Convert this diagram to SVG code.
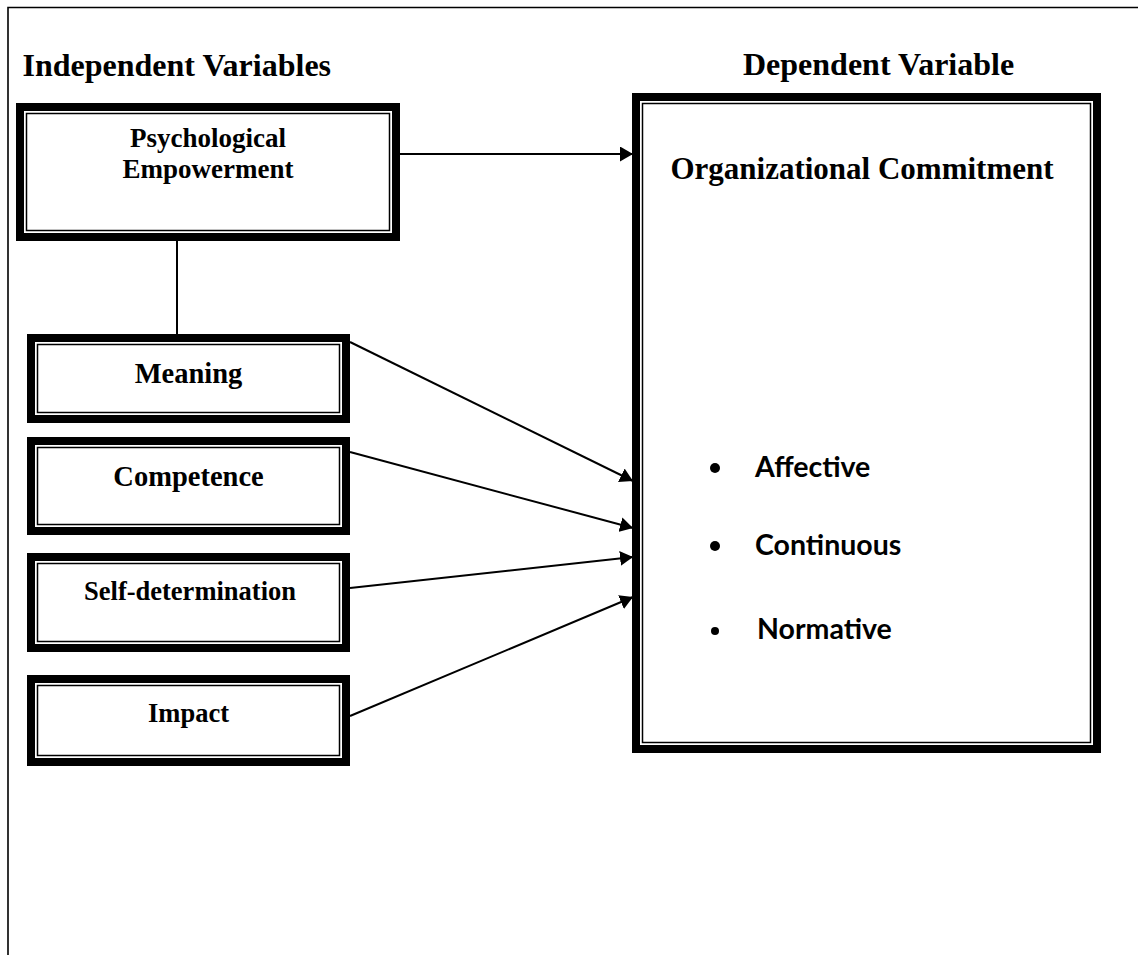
<svg xmlns="http://www.w3.org/2000/svg" width="1138" height="955" viewBox="0 0 1138 955">
<style>
.frame{fill:none;stroke:#000;stroke-width:1.6}
.thick{fill:#fff;stroke:#000;stroke-width:8}
.thin{fill:none;stroke:#000;stroke-width:1.5}
.t{font-family:"Liberation Serif","Times New Roman",serif;font-weight:bold;fill:#000}
.b{font-family:"Lato","Liberation Sans",sans-serif;font-weight:bold;fill:#000;font-size:28.5px}
.c{stroke:#000;stroke-width:2;fill:none}
</style>
<defs>
<marker id="arr" viewBox="0 0 13 15" refX="13" refY="7.5" markerWidth="13" markerHeight="15" markerUnits="userSpaceOnUse" orient="auto">
<path d="M0,0 L13,7.5 L0,15 Z" fill="#000"/>
</marker>
</defs>
<rect width="1138" height="955" fill="#fff"/>
<path class="frame" d="M8,955 L8,7.5 L1138,7.5"/>
<text class="t" x="22.5" y="76" font-size="32">Independent Variables</text>
<text class="t" x="743" y="75" font-size="32">Dependent Variable</text>

<g id="connectors">
<line class="c" x1="400" y1="154" x2="633" y2="154" marker-end="url(#arr)"/>
<line class="c" x1="177" y1="241" x2="177" y2="334"/>
<line class="c" x1="350" y1="342" x2="633" y2="481" marker-end="url(#arr)"/>
<line class="c" x1="350" y1="452" x2="633" y2="528" marker-end="url(#arr)"/>
<line class="c" x1="350" y1="588" x2="633" y2="557" marker-end="url(#arr)"/>
<line class="c" x1="350" y1="716" x2="633" y2="597" marker-end="url(#arr)"/>
</g>

<g id="psychological-empowerment">
<rect class="thick" x="20" y="107" width="376" height="130"/>
<rect class="thin" x="26.5" y="113.5" width="363" height="117"/>
<text class="t" x="208" y="147" font-size="27" text-anchor="middle">Psychological</text>
<text class="t" x="208" y="178" font-size="27" text-anchor="middle">Empowerment</text>
</g>

<g id="meaning">
<rect class="thick" x="31" y="338" width="315" height="81"/>
<rect class="thin" x="37.5" y="344.5" width="302" height="68"/>
<text class="t" x="188.5" y="383" font-size="28.5" text-anchor="middle">Meaning</text>
</g>

<g id="competence">
<rect class="thick" x="31" y="441" width="315" height="90"/>
<rect class="thin" x="37.5" y="447.5" width="302" height="77"/>
<text class="t" x="188.5" y="486" font-size="28.5" text-anchor="middle">Competence</text>
</g>

<g id="self-determination">
<rect class="thick" x="31" y="557" width="315" height="91"/>
<rect class="thin" x="37.5" y="563.5" width="302" height="78"/>
<text class="t" x="190" y="600" font-size="26.5" text-anchor="middle">Self-determination</text>
</g>

<g id="impact">
<rect class="thick" x="31" y="679" width="315" height="83"/>
<rect class="thin" x="37.5" y="685.5" width="302" height="70"/>
<text class="t" x="188.5" y="722" font-size="26.5" text-anchor="middle">Impact</text>
</g>

<g id="organizational-commitment">
<rect class="thick" x="636" y="97" width="461" height="652"/>
<rect class="thin" x="642.5" y="103.5" width="448" height="639"/>
<text class="t" x="862" y="179" font-size="31" text-anchor="middle">Organizational Commitment</text>
<circle cx="715" cy="468" r="5"/>
<text class="b" x="755" y="477">Affective</text>
<circle cx="715" cy="546" r="5"/>
<text class="b" x="755" y="555">Continuous</text>
<circle cx="715" cy="631" r="4"/>
<text class="b" x="757" y="639">Normative</text>
</g>
</svg>
